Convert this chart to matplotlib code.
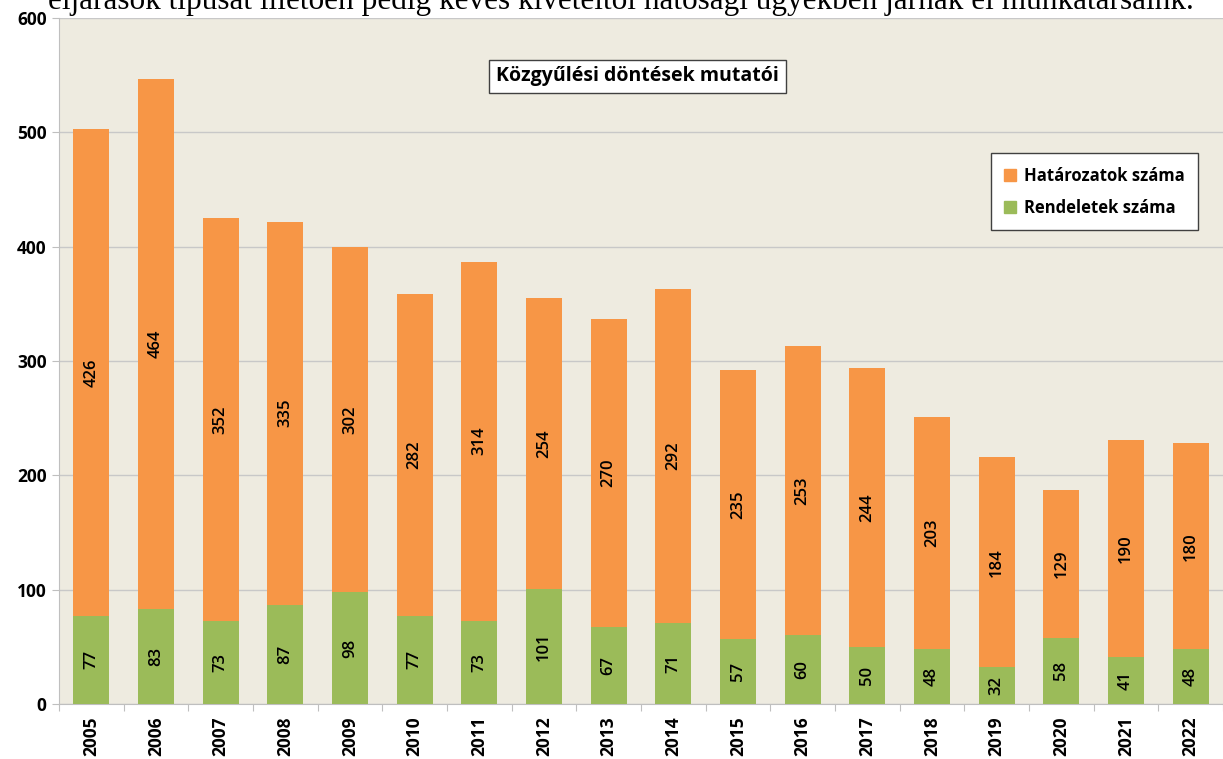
import matplotlib
matplotlib.use("Agg")
import matplotlib.pyplot as plt
from matplotlib.patches import Patch

years = ["2005", "2006", "2007", "2008", "2009", "2010", "2011", "2012", "2013",
         "2014", "2015", "2016", "2017", "2018", "2019", "2020", "2021", "2022"]
rendeletek = [77, 83, 73, 87, 98, 77, 73, 101, 67, 71, 57, 60, 50, 48, 32, 58, 41, 48]
hatarozatok = [426, 464, 352, 335, 302, 282, 314, 254, 270, 292, 235, 253, 244, 203, 184, 129, 190, 180]
yticks = [0, 100, 200, 300, 400, 500, 600]

ORANGE = "#F79646"
GREEN = "#9BBB59"
BG = "#EEEBE0"

plt.rcParams['font.family'] = ['Open Sans', 'DejaVu Sans']

W, H = 1223, 759
fig = plt.figure(figsize=(W / 100, H / 100), dpi=100)
left, right, top, bottom = 59, 1223, 18, 704
ax = fig.add_axes([left / W, 1 - bottom / H, (right - left) / W, (bottom - top) / H])
ax.set_facecolor(BG)

x = list(range(len(years)))
slot = 65.1
ax.set_xlim(-0.5, -0.5 + (right - left) / slot)
ax.set_ylim(0, 600)

ax.bar(x, rendeletek, width=0.56, color=GREEN, zorder=3)
ax.bar(x, hatarozatok, width=0.56, bottom=rendeletek, color=ORANGE, zorder=3)

for i in x:
    ax.text(i, rendeletek[i] / 2, str(rendeletek[i]), rotation=90, ha='center', va='center',
            fontsize=12, fontweight='semibold', zorder=4)
    ax.text(i, rendeletek[i] + hatarozatok[i] / 2, str(hatarozatok[i]), rotation=90,
            ha='center', va='center', fontsize=12, fontweight='semibold', zorder=4)

ax.set_yticks(yticks)
ax.set_yticklabels([str(v) for v in yticks], fontsize=12.5, fontweight='bold')
ax.yaxis.grid(True, color='#C8C8C8', linewidth=1, zorder=0)
ax.set_axisbelow(True)
ax.tick_params(axis='y', length=5, color='#BFBFBF', pad=4)

ax.set_xticks([i + 0.5 for i in range(-1, len(years))], minor=False)
ax.set_xticklabels([])
ax.tick_params(axis='x', which='major', length=5, color='#BFBFBF')
ax.set_xticks(x, minor=True)
ax.set_xticklabels(years, minor=True, rotation=90, fontsize=12.5, fontweight='bold')
ax.tick_params(axis='x', which='minor', length=0, pad=9)

for s in ['top', 'right']:
    ax.spines[s].set_visible(False)
ax.spines['left'].set_color('#BFBFBF')
ax.spines['bottom'].set_color('#BFBFBF')

ax.text(0.497, 0.915, "Közgyűlési döntések mutatói", transform=ax.transAxes,
        ha='center', va='center', fontsize=14, fontweight='bold',
        bbox=dict(boxstyle='square,pad=0.35', facecolor='white', edgecolor='#404040', linewidth=1),
        zorder=5)

handles = [Patch(color=ORANGE, label="Határozatok száma"),
           Patch(color=GREEN, label="Rendeletek száma")]
leg = ax.legend(handles=handles, loc='upper right', bbox_to_anchor=(0.986, 0.815),
                prop={'weight': 'bold', 'size': 12}, frameon=True, fancybox=False,
                handlelength=0.7, handleheight=0.7, handletextpad=0.5,
                labelspacing=0.85, borderpad=0.8, framealpha=1)
leg.get_frame().set_edgecolor('#404040')
leg.get_frame().set_linewidth(1)
leg.set_zorder(5)

fig.text(0.508, 1.0 - 9 / H, "eljárások típusát illetően pedig kevés kivételtől hatósági ügyekben járnak el munkatársaink.",
         ha='center', va='baseline', fontsize=22.5, family='Liberation Serif')

fig.savefig("out.png", dpi=100, facecolor='white')
